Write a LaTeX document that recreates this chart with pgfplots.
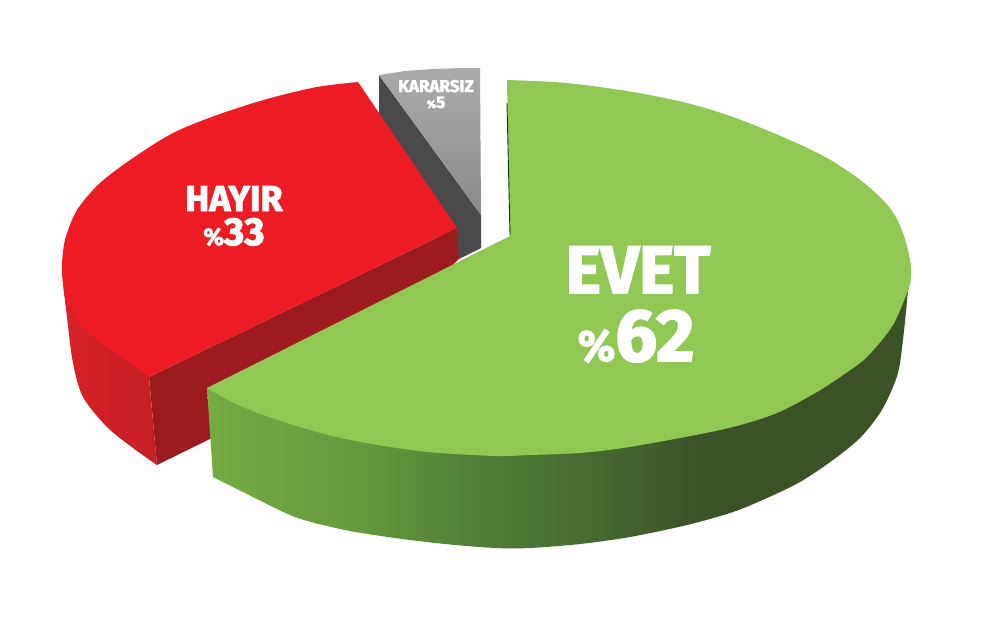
\documentclass[border=0pt]{standalone}
\usepackage{fontspec}
\usepackage{pgfplots}
\pgfplotsset{compat=1.18}
\setmainfont{Fira Sans}
\newfontface\heavy[FakeBold=2.5]{Fira Sans Bold}

\definecolor{greentop}{HTML}{90C853}
\definecolor{redtop}{HTML}{ED1C24}
\definecolor{reddark}{HTML}{9C1B1F}
\definecolor{greydark}{HTML}{4A4A4C}
\pgfdeclarehorizontalshading{greenside}{100bp}{
  rgb(0bp)=(0.455,0.67,0.26);
  rgb(25bp)=(0.455,0.67,0.26);
  rgb(35.2bp)=(0.40,0.61,0.24);
  rgb(44.4bp)=(0.32,0.49,0.215);
  rgb(52.9bp)=(0.27,0.41,0.185);
  rgb(60bp)=(0.23,0.32,0.153);
  rgb(75bp)=(0.23,0.32,0.15);
  rgb(100bp)=(0.23,0.32,0.15)}
\pgfdeclarehorizontalshading{redside}{100bp}{
  rgb(0bp)=(0.85,0.125,0.16);
  rgb(25bp)=(0.85,0.125,0.16);
  rgb(75bp)=(0.77,0.12,0.145);
  rgb(100bp)=(0.77,0.12,0.145)}

\begin{document}
\begin{tikzpicture}
\begin{axis}[
  scale only axis,
  width=1000pt,height=624pt,
  xmin=0,xmax=1000,ymin=0,ymax=624,
  y dir=reverse,
  hide axis,
  no markers,
  every axis plot/.append style={forget plot},
]
% page
\addplot[draw=none,fill=white] coordinates {(0,0)(1000,0)(1000,624)(0,624)};

% Kararsiz: side, then top
\addplot[draw=none,fill=greydark] coordinates {
  (379,75)(481,215)(481,248)(459,259)(440,240)(379,120)};
\addplot[draw=none,top color=black!33,bottom color=black!46] coordinates {
  (379,75)(405,71)(433,69)(460,68)(480,68)(481,215)};

% Hayir: inner wall, outer wall, top (curved rim and straight part apart)
\addplot[draw=none,fill=reddark] coordinates {
  (149,377)(457,228)(459,259)(330,380)(157,465)};
\addplot[draw=none,smooth,shading=redside] coordinates {
  (157,465)(133,448)(107,427)(83,397)(73,363)(67,317)(62,267)(70,235)(100,225)(140,280)};
\addplot[draw=none,smooth,fill=redtop] coordinates {
  (358,82)(317,87)(267,99)(217,115)(173,133)(133,158)(100,183)(77,210)(65,240)(62,267)
  (64,285)(67,300)(83,327)(107,347)(130,363)(149,377)};
\addplot[draw=none,fill=redtop] coordinates {(358,82)(457,228)(149,377)(200,200)};

% Evet: outer wall, top
\addplot[draw=none,smooth,shading=greenside] coordinates {
  (213,477)(245,493)(295,517)(345,530)(395,538)(445,544)(495,548)(530,548)
  (580,544)(630,537)(687,525)(733,512)(767,498)(800,482)(833,460)(860,438)(880,413)
  (893,387)(900,363)(907,300)(906,275)(860,300)(600,350)(300,365)(207,388)};
\addplot[draw=none,smooth,fill=greentop] coordinates {
  (507,80)(567,83)(633,92)(687,103)(733,117)(783,137)(827,158)(863,182)(890,208)(903,233)
  (910,260)(911,277)(908,290)(893,325)};
\addplot[draw=none,smooth,fill=greentop] coordinates {
  (908,290)(893,325)(867,357)(843,375)(817,392)(777,413)(733,427)
  (680,438)(623,448)(580,453)(530,455)(495,456)(428,452)(378,445)(328,435)(278,420)
  (238,405)(207,388)};
\addplot[draw=none,fill=greentop] coordinates {(507,80)(800,170)(893,325)(207,388)(510,236)};
\addplot[color=black!60!green!60!black,line width=0.9pt] coordinates {(507,103)(510,235)};

% labels
\node[white,anchor=base,inner sep=0pt] at (axis cs:638,293) {\fontsize{67}{67}\heavy EVET};
\node[white,anchor=base,inner sep=0pt] at (axis cs:636,361) {\fontsize{44}{44}\heavy\%\fontsize{74}{74}\heavy 62};
\node[white,anchor=base,inner sep=0pt] at (axis cs:234,211) {\fontsize{36}{36}\heavy HAYIR};
\node[white,anchor=base,inner sep=0pt] at (axis cs:234,245) {\fontsize{24}{24}\heavy\%\fontsize{39}{39}\heavy 33};
\node[white,anchor=base,inner sep=0pt] at (axis cs:436,92) {\fontsize{17}{17}\heavy KARARSIZ};
\node[white,anchor=base,inner sep=0pt] at (axis cs:436,108) {\fontsize{11}{11}\heavy\%\fontsize{17}{17}\heavy 5};
\end{axis}
\end{tikzpicture}
\end{document}
